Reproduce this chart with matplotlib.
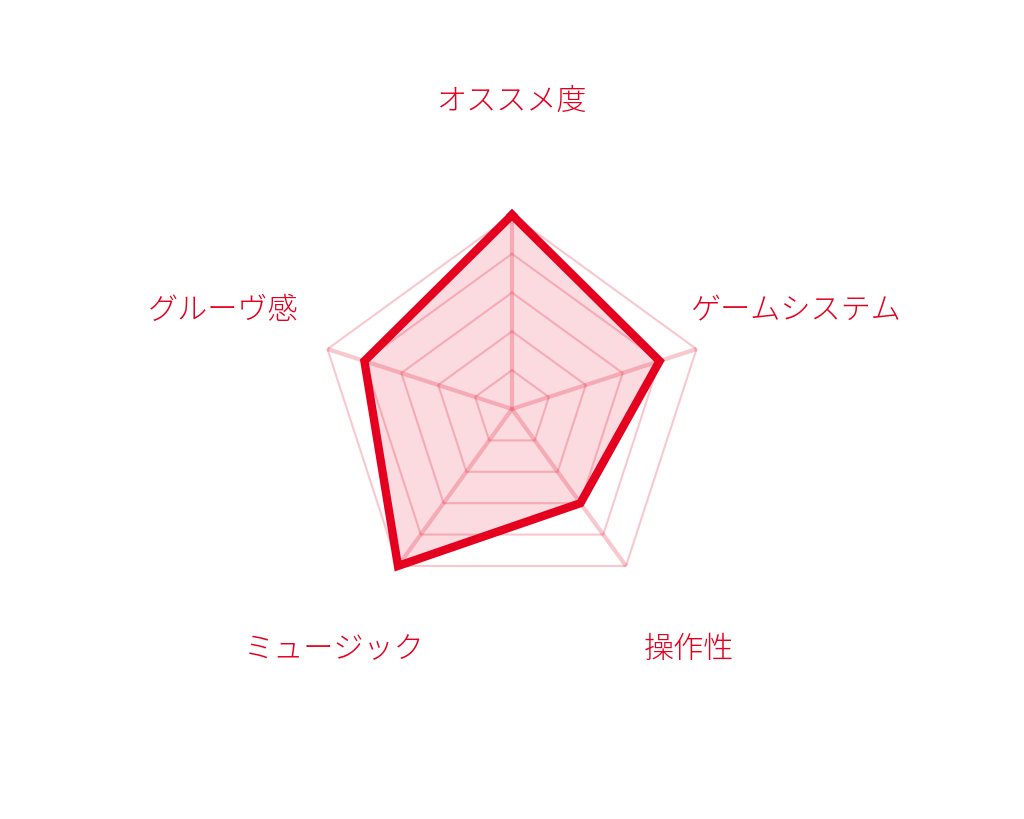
import matplotlib.pyplot as plt
import numpy as np

plt.rcParams['font.family'] = ['Noto Sans CJK JP', 'DejaVu Sans']

labels = ["オススメ度", "ゲームシステム", "操作性", "ミュージック", "グルーヴ感"]
values = [5, 4, 3, 5, 4]
levels = [1, 2, 3, 4, 5]

red = "#e60020"
n = len(labels)
# clockwise from the top
ang = np.pi / 2 - np.arange(n) * 2 * np.pi / n

fig = plt.figure(figsize=(10.24, 8.2), dpi=100)
ax = fig.add_axes([0, 0, 1, 1])
s = 38.8  # pixels per unit
ax.set_xlim(-512 / s, 512 / s)
ax.set_ylim(-410 / s, 410 / s)
ax.axis("off")

# rings
for lv in levels:
    xs = lv * np.cos(np.append(ang, ang[0]))
    ys = lv * np.sin(np.append(ang, ang[0]))
    ax.plot(xs, ys, color=red, alpha=0.22, lw=1.5, zorder=1)

# spokes
for a in ang:
    ax.plot([0, levels[-1] * np.cos(a)], [0, levels[-1] * np.sin(a)],
            color=red, alpha=0.22, lw=3, zorder=1, solid_capstyle="butt")

v = np.array(values + values[:1], dtype=float)
a2 = np.append(ang, ang[0])
ax.fill(v * np.cos(a2), v * np.sin(a2), color=red, alpha=0.14, lw=0, zorder=2)
ax.plot(v * np.cos(a2), v * np.sin(a2), color=red, lw=6, zorder=3,
        solid_joinstyle="miter")

# label offsets (layout only)
label_pos = [(0.0, 7.97), (7.32, 2.57), (4.56, -6.15), (-4.575, -6.15), (-7.45, 2.57)]
for lab, (x, y) in zip(labels, label_pos):
    ax.text(x, y, lab, color=red, fontsize=21.7, fontweight="light",
            ha="center", va="center")

fig.savefig("out.png", dpi=100)
